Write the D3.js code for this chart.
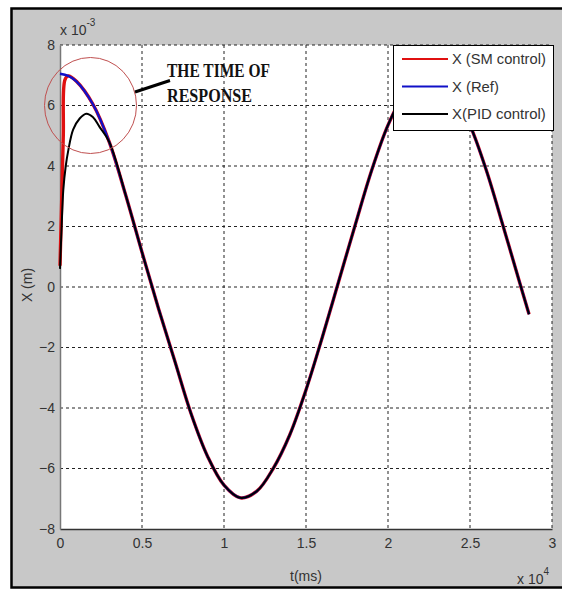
<!DOCTYPE html>
<html>
<head>
<meta charset="utf-8">
<script src="https://cdn.jsdelivr.net/npm/d3@7"></script>
<style>
  body { margin: 0; background: #fff; }
  text { font-family: "Liberation Sans", Arial, sans-serif; }
</style>
</head>
<body>
<script>
'use strict';

// time in ms, position in units of 1e-3 m
const refT = [0, 500, 1000, 2000, 3000, 4000, 5000, 6000, 7000, 8000, 9000, 10000, 11000,
  12000, 13000, 14000, 15000, 16000, 17000, 18000, 19000, 20000, 21000, 22000, 23000, 24000, 25000,
  26000, 27000, 28000, 28600];
const refX = [7.05, 6.98, 6.8, 6.05, 4.8, 3.05, 1.15, -0.7, -2.45, -4.2, -5.6, -6.55, -6.97,
  -6.75, -6.0, -4.9, -3.4, -1.65, 0.2, 2.05, 3.85, 5.35, 6.4, 6.95, 6.95, 6.4, 5.35,
  3.85, 2.05, 0.2, -0.9];

// start of SM control response (then it follows the reference)
const smT = [0, 100, 200, 300];
const smX = [0.7, 2.8, 5.0, 6.85];

// start of PID control response (then it follows the reference)
const pidT = [0, 100, 200, 350, 500, 800, 1200, 1600, 2000, 2400];
const pidX = [0.6, 2.0, 3.2, 4.0, 4.5, 5.2, 5.57, 5.73, 5.62, 5.3];

const xTicks = [0, 5000, 10000, 15000, 20000, 25000, 30000];
const yTicks = [-8, -6, -4, -2, 0, 2, 4, 6, 8];

const seriesNames = ["X (SM control)", "X (Ref)", "X(PID control)"];
const seriesColors = ["#e01010", "#1010c8", "#000000"];

const W = 562, H = 590;
const pLeft = 60, pRight = 552, pTop = 45, pBottom = 529;

const svg = d3.select("body").append("svg")
  .attr("width", W)
  .attr("height", H);

// figure frame
svg.append("rect")
  .attr("x", 11.5).attr("y", 8.5)
  .attr("width", 600).attr("height", 579)
  .attr("fill", "#c8c8c8")
  .attr("stroke", "#000")
  .attr("stroke-width", 2.5);

let x = d3.scaleLinear().domain([0, 30000]).range([pLeft, pRight]);
let y = d3.scaleLinear().domain([-8, 8]).range([pBottom, pTop]);

svg.append("rect")
  .attr("x", pLeft).attr("y", pTop)
  .attr("width", pRight - pLeft).attr("height", pBottom - pTop)
  .attr("fill", "#fff");

// grid
svg.append("g")
  .selectAll("line")
  .data(xTicks.slice(1))
  .enter().append("line")
    .attr("x1", d => x(d)).attr("x2", d => x(d))
    .attr("y1", pTop).attr("y2", pBottom)
    .attr("stroke", "#222").attr("stroke-dasharray", "3,3");

svg.append("g")
  .selectAll("line")
  .data(yTicks.slice(1))
  .enter().append("line")
    .attr("x1", pLeft).attr("x2", pRight)
    .attr("y1", d => y(d)).attr("y2", d => y(d))
    .attr("stroke", "#222").attr("stroke-dasharray", "3,3");

// axes
let gx = svg.append("g")
  .attr("transform", "translate(0," + pBottom + ")")
  .call(d3.axisBottom(x).tickValues(xTicks).tickSize(0).tickPadding(9)
    .tickFormat(d => d3.format("")(d / 10000)));
gx.select(".domain").attr("stroke", "#333").attr("stroke-width", 1.5);
gx.selectAll("text").attr("font-size", 14).attr("fill", "#333");

let gy = svg.append("g")
  .attr("transform", "translate(" + pLeft + ",0)")
  .call(d3.axisLeft(y).tickValues(yTicks).tickSize(0).tickPadding(5));
gy.select(".domain").attr("stroke", "#777").attr("stroke-width", 1.5);
gy.selectAll("text").attr("font-size", 14).attr("fill", "#333");

// curves
let line = d3.line()
  .x(d => x(d[0]))
  .y(d => y(d[1]))
  .curve(d3.curveCatmullRom.alpha(0.5));

let refData = refT.map((t, i) => [t, refX[i]]);
let smData = smT.map((t, i) => [t, smX[i]])
  .concat(refData.filter(d => d[0] > smT[smT.length - 1]));
let pidData = pidT.map((t, i) => [t, pidX[i]])
  .concat(refData.filter(d => d[0] > pidT[pidT.length - 1]));

svg.append("path").datum(smData).attr("d", line)
  .attr("fill", "none").attr("stroke", seriesColors[0]).attr("stroke-width", 3.4);
svg.append("path").datum(refData).attr("d", line)
  .attr("fill", "none").attr("stroke", seriesColors[1]).attr("stroke-width", 2.4);
svg.append("path").datum(pidData).attr("d", line)
  .attr("fill", "none").attr("stroke", seriesColors[2]).attr("stroke-width", 2);

// annotation circle and arrow
svg.append("ellipse")
  .attr("cx", x(1860)).attr("cy", y(6.0))
  .attr("rx", 46).attr("ry", 48)
  .attr("fill", "none")
  .attr("stroke", "#c05050").attr("stroke-width", 1);

svg.append("line")
  .attr("x1", 135).attr("y1", 92)
  .attr("x2", 170).attr("y2", 80.5)
  .attr("stroke", "#000").attr("stroke-width", 3);

let note = svg.append("g")
  .style("font-family", "'Liberation Serif', 'DejaVu Serif', serif")
  .style("font-weight", "bold")
  .attr("font-size", 18)
  .attr("fill", "#111");
note.append("text").attr("x", 167).attr("y", 77)
  .attr("textLength", 103).attr("lengthAdjust", "spacingAndGlyphs")
  .style("font-family", "inherit").text("THE TIME OF");
note.append("text").attr("x", 167).attr("y", 102)
  .attr("textLength", 85).attr("lengthAdjust", "spacingAndGlyphs")
  .style("font-family", "inherit").text("RESPONSE");

// legend
let lg = svg.append("g");
lg.append("rect")
  .attr("x", 393.5).attr("y", 45.5)
  .attr("width", 160).attr("height", 85)
  .attr("fill", "#fff").attr("stroke", "#000");
seriesNames.forEach(function(name, i) {
  let ly = 59 + i * 27.5;
  lg.append("line")
    .attr("x1", 402).attr("x2", 448)
    .attr("y1", ly).attr("y2", ly)
    .attr("stroke", seriesColors[i]).attr("stroke-width", 2);
  lg.append("text")
    .attr("x", 452).attr("y", ly + 5)
    .attr("font-size", 14).attr("fill", "#333")
    .attr("textLength", name.length * 6.7).attr("lengthAdjust", "spacingAndGlyphs")
    .text(name);
});

// axis labels and multipliers
svg.append("text")
  .attr("x", (pLeft + pRight) / 2).attr("y", 581)
  .attr("text-anchor", "middle")
  .attr("font-size", 14).attr("fill", "#333")
  .text("t(ms)");

svg.append("text")
  .attr("transform", "translate(32,285) rotate(-90)")
  .attr("text-anchor", "middle")
  .attr("font-size", 14).attr("fill", "#333")
  .text("X (m)");

let e1 = svg.append("text")
  .attr("x", 60).attr("y", 35)
  .attr("font-size", 14).attr("fill", "#333");
e1.append("tspan").text("x 10");
e1.append("tspan").attr("font-size", 10).attr("dy", -9).text("-3");

let e2 = svg.append("text")
  .attr("x", 517).attr("y", 584)
  .attr("font-size", 14).attr("fill", "#333");
e2.append("tspan").text("x 10");
e2.append("tspan").attr("font-size", 10).attr("dy", -9).text("4");
</script>
</body>
</html>
